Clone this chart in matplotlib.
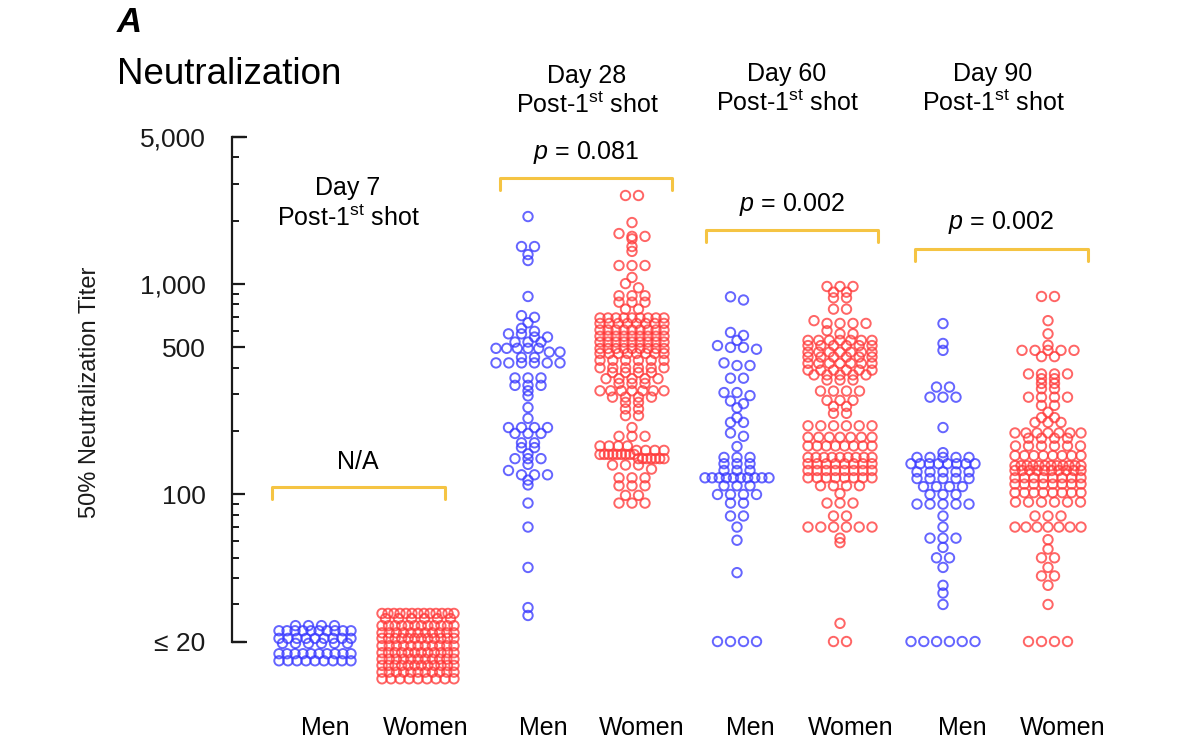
import numpy as np
import matplotlib
matplotlib.use('Agg')
import matplotlib.pyplot as plt
from matplotlib.lines import Line2D
from matplotlib.ticker import NullFormatter

plt.rcParams['font.family'] = ['Liberation Sans', 'DejaVu Sans']
plt.rcParams['mathtext.fontset'] = 'custom'
plt.rcParams['mathtext.rm'] = 'Liberation Sans'
plt.rcParams['mathtext.it'] = 'Liberation Sans:italic'

# 50% neutralization titers:
# a titer value and how many dots sit on that row
d7_men_vals = [23.8, 22.5, 20.7, 19.6, 17.5, 16.2]
d7_men_n = [4, 10, 9, 6, 10, 9]
d7_women_vals = [27.2, 25.7, 23.8, 22.0, 20.7, 19.1, 17.7, 16.5, 15.4, 14.3, 13.3]
d7_women_n = [13, 6, 12, 11, 12, 11, 12, 11, 12, 11, 9]

d28_men_vals = [2094, 1508, 1381, 1294, 873, 708, 695, 655, 616, 596, 580, 560,
                530, 495, 475, 448, 422, 358, 330, 311, 294, 259, 230, 208, 195,
                176, 167, 156, 148, 139, 130, 124, 117, 111, 91, 70, 45, 29, 26.6]
d28_men_n = [1, 2, 1, 1, 1, 1, 1, 1, 1, 1, 2, 2, 3, 5, 2, 2, 6, 3, 3, 1, 1, 1, 1,
             4, 3, 2, 2, 1, 3, 1, 1, 3, 1, 1, 1, 1, 1, 1, 1]
d28_women_vals = [2636, 1960, 1738, 1685, 1640, 1508, 1430, 1225, 1075, 1005, 960,
                  880, 820, 760, 690, 650, 605, 565, 530, 494, 468, 434, 400, 380,
                  355, 337, 311, 290, 274, 255, 237, 208, 189, 170, 162, 155, 148,
                  138, 132, 120, 110, 99, 91]
d28_women_n = [2, 1, 1, 2, 1, 1, 1, 3, 1, 1, 1, 3, 3, 2, 9, 8, 9, 9, 9, 9, 8, 6, 6,
               4, 5, 3, 7, 4, 2, 2, 2, 1, 3, 4, 4, 9, 7, 3, 1, 3, 3, 2, 3]

d60_men_vals = [870, 840, 589, 570, 540, 510, 500, 490, 422, 410, 357, 305, 295,
                278, 270, 258, 232, 220, 196, 189, 169, 150, 140, 130, 120, 110,
                100, 91, 79, 70, 60.6, 42.5, 20]
d60_men_n = [1, 1, 1, 1, 1, 1, 2, 1, 1, 2, 2, 2, 1, 1, 1, 1, 1, 2, 1, 1, 1, 3, 3,
             3, 10, 3, 4, 2, 2, 1, 1, 1, 4]
d60_women_vals = [974, 915, 860, 760, 670, 650, 600, 580, 540, 510, 475, 450, 420,
                  390, 370, 350, 310, 280, 262, 243, 212, 187, 170, 150, 140, 130,
                  120, 110, 101, 91, 79, 70, 62, 59, 24.4, 20]
d60_women_n = [3, 2, 2, 2, 1, 4, 1, 2, 7, 6, 7, 6, 7, 6, 5, 3, 4, 3, 2, 2, 6, 7, 8,
               9, 8, 8, 8, 4, 1, 3, 2, 6, 1, 1, 1, 2]

d90_men_vals = [649, 522, 484, 324, 290, 208, 158, 150, 140, 128, 119, 109, 100, 90,
                79, 70, 62, 56, 50, 45, 37, 34, 30, 20]
d90_men_n = [1, 1, 1, 2, 3, 1, 1, 5, 8, 5, 5, 4, 3, 5, 1, 1, 3, 1, 2, 1, 1, 1, 1, 6]
d90_women_vals = [873, 670, 580, 512, 484, 452, 374, 355, 337, 318, 290, 265, 246,
                  232, 220, 196, 185, 170, 153, 137, 130, 120, 112, 102, 92, 79, 70,
                  61, 55, 50, 45, 41, 37, 30, 20]
d90_women_n = [2, 1, 1, 1, 5, 2, 4, 2, 2, 2, 4, 2, 1, 2, 3, 7, 4, 6, 8, 12, 10, 8, 8,
               8, 6, 3, 7, 1, 1, 2, 1, 2, 1, 1, 4]

group_titles = ['Day 7', 'Day 28', 'Day 60', 'Day 90']
p_labels = ['N/A', '$p$ = 0.081', '$p$ = 0.002', '$p$ = 0.002']
sex_labels = ['Men', 'Women']

y_ticks = [20, 100, 500, 1000, 5000]
y_ticklabels = ['\u2264 20', '100', '500', '1,000', '5,000']
y_minor = [30, 40, 50, 60, 70, 80, 90, 200, 300, 400, 600, 700, 800, 900,
           2000, 3000, 4000]

BLUE = '#3a3aff'
RED = '#ff3a3a'
GOLD = '#f5c443'

# ---- layout (pixels of the 1200x755 canvas) ----
W, H = 1200, 755
fig = plt.figure(figsize=(W / 100, H / 100), dpi=100)

ax_l, ax_r, ax_t, ax_b = 232, 1120, 137, 700
ax = fig.add_axes([ax_l / W, 1 - ax_b / H, (ax_r - ax_l) / W, (ax_b - ax_t) / H])
ax.set_xlim(ax_l, ax_r)
ax.set_yscale('log')
px_per_decade = 210.4
ax.set_ylim(5000 / 10 ** ((ax_b - ax_t) / px_per_decade), 5000)


def fxy(x, y):
    return x / W, 1 - y / H


def spread(values, xc, half, step=13, bin_px=4.5):
    # Prism-like scatter: dots within one height bin are laid out side by side
    values = np.asarray(values, float)
    ypix = ax.transData.transform(
        np.column_stack([np.full(len(values), xc), values]))[:, 1]
    order = np.argsort(-ypix, kind='stable')
    xs = np.empty(len(values))
    i = 0
    while i < len(order):
        j = i
        while j < len(order) and ypix[order[i]] - ypix[order[j]] < bin_px:
            j += 1
        k = j - i
        s = step if k == 1 else min(step, 2 * half / (k - 1))
        xs[order[i:j]] = xc + (np.arange(k) - (k - 1) / 2) * s
        i = j
    return xs


columns = [
    (d7_men_vals, d7_men_n, BLUE, 315, 36),
    (d7_women_vals, d7_women_n, RED, 418, 36),
    (d28_men_vals, d28_men_n, BLUE, 528, 32),
    (d28_women_vals, d28_women_n, RED, 632, 32),
    (d60_men_vals, d60_men_n, BLUE, 737, 32),
    (d60_women_vals, d60_women_n, RED, 840, 32),
    (d90_men_vals, d90_men_n, BLUE, 943, 32),
    (d90_women_vals, d90_women_n, RED, 1048, 33),
]

for vals, counts, col, xc, half in columns:
    y = np.repeat(vals, counts)
    x = spread(y, xc, half)
    ax.scatter(x, y, s=46, facecolors='none', edgecolors=col, linewidths=1.4,
               alpha=0.78, zorder=3)

# axis styling
for side in ['top', 'right', 'bottom']:
    ax.spines[side].set_visible(False)
ax.spines['left'].set_bounds(20, 5000)
ax.spines['left'].set_linewidth(1.6)
ax.spines['left'].set_color('#1a1a1a')
ax.set_xticks([])
ax.set_yticks(y_ticks)
ax.set_yticklabels(y_ticklabels)
ax.set_yticks(y_minor, minor=True)
ax.yaxis.set_minor_formatter(NullFormatter())
ax.tick_params(axis='y', which='major', direction='in', length=9, width=1.6,
               pad=19, labelsize=19, colors='#1a1a1a')
ax.tick_params(axis='y', which='minor', direction='in', length=5, width=1.4,
               colors='#1a1a1a')
for v in [20, 5000]:
    ax.plot([ax_l, ax_l + 15], [v, v], color='#1a1a1a', lw=1.6, clip_on=False,
            solid_capstyle='butt')

fig.text(*fxy(90, 392), '50% Neutralization Titer', rotation=90, fontsize=17,
         ha='center', va='center', color='#1a1a1a')

# titles
fig.text(*fxy(117, 22), 'A', fontsize=25, fontweight='bold', style='italic',
         ha='left', va='center')
fig.text(*fxy(117, 75), 'Neutralization', fontsize=26.5, ha='left', va='center')

# day headers
header_pos = [(348, 188, 218), (587, 76, 105), (787, 74, 103), (993, 74, 103)]
for title, (x, y1, y2) in zip(group_titles, header_pos):
    fig.text(*fxy(x, y1), title, fontsize=18, ha='center', va='center')
    fig.text(*fxy(x, y2), 'Post-1$^{\\mathrm{st}}$ shot', fontsize=18,
             ha='center', va='center')

# brackets and p values
bracket_pos = [(272, 445, 487), (500, 672, 178), (706, 878, 230), (915, 1088, 249)]
p_pos = [(358, 462), (586, 152), (792, 205), (1001, 222)]
for (x0, x1, yb), (xp, yp), lab in zip(bracket_pos, p_pos, p_labels):
    xs = [x0, x0, x1, x1]
    ys = [yb + 12, yb, yb, yb + 12]
    fig.add_artist(Line2D([v / W for v in xs], [1 - v / H for v in ys],
                          color=GOLD, lw=2.2, solid_joinstyle='round',
                          solid_capstyle='round'))
    fig.text(*fxy(xp, yp), lab, fontsize=18, ha='center', va='center')

# sex labels under each column
label_x = [325, 426, 543, 642, 750, 851, 962, 1063]
for i, x in enumerate(label_x):
    fig.text(*fxy(x, 728), sex_labels[i % 2], fontsize=18, ha='center',
             va='center')

fig.savefig('out.png', dpi=100)
